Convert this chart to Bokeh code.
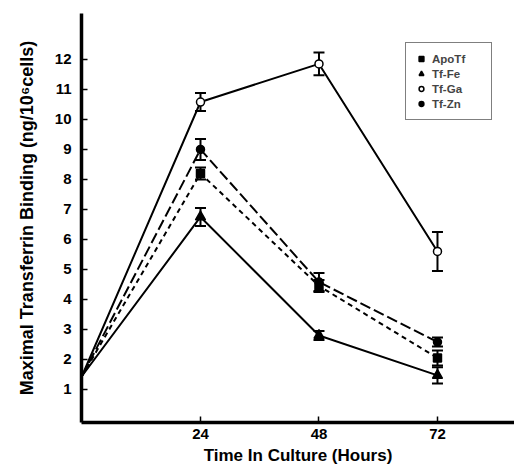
from bokeh.plotting import figure
from bokeh.models import ColumnDataSource, Whisker, TeeHead, Legend, LegendItem, FixedTicker, Range1d
from bokeh.embed import file_html
from bokeh.resources import INLINE

hours = [0, 24, 48, 72]
series_names = ["ApoTf", "Tf-Fe", "Tf-Ga", "Tf-Zn"]
apo = [1.45, 8.2, 4.45, 2.05]
apo_err = [0, 0.2, 0.2, 0.25]
fe = [1.45, 6.75, 2.8, 1.47]
fe_err = [0, 0.3, 0.15, 0.27]
ga = [1.45, 10.58, 11.85, 5.6]
ga_err = [0, 0.3, 0.38, 0.65]
zn = [1.45, 9.0, 4.58, 2.58]
zn_err = [0, 0.35, 0.3, 0.15]
x_ticks = [24, 48, 72]
y_ticks = [1, 2, 3, 4, 5, 6, 7, 8, 9, 10, 11, 12]

FONT = "Liberation Sans"

p = figure(width=514, height=469, output_backend="svg", toolbar_location=None,
           x_range=Range1d(-0.1, 87.6), y_range=Range1d(-0.1, 13.53),
           min_border_left=81, min_border_right=0, min_border_top=13, min_border_bottom=47)
p.outline_line_color = None
p.grid.visible = False
p.background_fill_color = "white"

for ax in (p.xaxis[0], p.yaxis[0]):
    ax.axis_line_width = 3.5
    ax.axis_line_color = "black"
    ax.major_tick_in = 6
    ax.major_tick_out = 0
    ax.major_tick_line_width = 1.5
    ax.minor_tick_line_color = None
    ax.major_label_text_font = FONT
    ax.major_label_text_font_size = "15px"
    ax.major_label_text_font_style = "bold"
    ax.major_label_text_color = "black"
    ax.axis_label_text_font = FONT
    ax.axis_label_text_font_style = "bold"
    ax.axis_label_text_color = "black"

p.xaxis.ticker = FixedTicker(ticks=x_ticks)
p.yaxis.ticker = FixedTicker(ticks=y_ticks)
p.xaxis.major_label_standoff = 6
p.yaxis.major_label_standoff = 10
p.xaxis.axis_label = "Time In Culture (Hours)"
p.xaxis.axis_label_text_font_size = "17px"
p.xaxis.axis_label_standoff = 4
p.yaxis.axis_label = "Maximal Transferrin Binding (ng/10\u2076cells)"
p.yaxis.axis_label_text_font_size = "18px"
p.yaxis.axis_label_standoff = 15

specs = [
    (apo, apo_err, "5 4", "square", "black", 8),
    (fe, fe_err, "solid", "triangle", "black", 10),
    (ga, ga_err, "solid", "circle", "white", 8),
    (zn, zn_err, "11 4", "circle", "black", 8),
]

marker_renderers = []
for vals, errs, dash, marker, fill, size in specs:
    p.line(hours, vals, line_color="black", line_width=2, line_dash=dash)
for vals, errs, dash, marker, fill, size in specs:
    xs = hours[1:]
    ys = vals[1:]
    es = errs[1:]
    src = ColumnDataSource(dict(x=xs, y=ys,
                                upper=[v + e for v, e in zip(ys, es)],
                                lower=[v - e for v, e in zip(ys, es)]))
    w = Whisker(base="x", upper="upper", lower="lower", source=src,
                line_color="black", line_width=2,
                upper_head=TeeHead(size=11, line_width=2, line_color="black"),
                lower_head=TeeHead(size=11, line_width=2, line_color="black"))
    p.add_layout(w)
for vals, errs, dash, marker, fill, size in specs:
    r = p.scatter(hours[1:], vals[1:], marker=marker, size=size,
                  fill_color=fill, line_color="black", line_width=1.5)
    marker_renderers.append(r)

legend = Legend(items=[LegendItem(label=n, renderers=[r]) for n, r in zip(series_names, marker_renderers)],
                location=(324, 302))
legend.border_line_color = "black"
legend.border_line_width = 1.5
legend.background_fill_alpha = 1
legend.label_text_font = FONT
legend.label_text_font_style = "bold"
legend.label_text_font_size = "11.5px"
legend.label_height = 13
legend.label_width = 50
legend.glyph_height = 13
legend.glyph_width = 12
legend.label_standoff = 5
legend.spacing = 2
legend.padding = 9
legend.margin = 0
p.add_layout(legend, "center")

open("out.html", "w").write(file_html(p, INLINE))
